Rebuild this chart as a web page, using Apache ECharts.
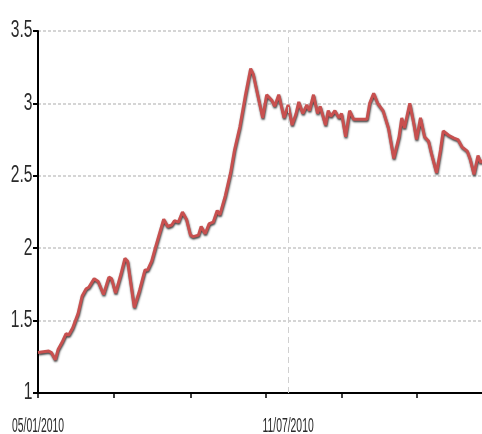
<!DOCTYPE html>
<html>
<head>
<meta charset="utf-8">
<script src="https://cdn.jsdelivr.net/npm/echarts@6/dist/echarts.min.js"></script>
<style>
html,body{margin:0;padding:0;background:#fff;}
#chart{width:482px;height:434px;}
</style>
</head>
<body>
<div id="chart"></div>
<script>
// Day offsets from 05/01/2010
var days = [0,8,10,13,15,18,21,23,26,30,33,36,38,42,45,49,53,55,58,62,65,67,72,76,80,82,85,88,94,97,100,102,105,108,111,114,116,120,122,125,128,131,134,136,140,144,147,151,155,159,161,164,168,171,175,177,180,184,187,190,193,195,198,201,203,206,209,211,215,217,219,222,225,227,230,233,236,246,248,251,254,258,262,266,270,272,274,278,281,283,286,289,292,294,298,301,303,307,311,314,317,321,323,326,329,331,332];
var values = [1.28,1.29,1.28,1.23,1.30,1.35,1.41,1.40,1.45,1.55,1.67,1.72,1.73,1.79,1.77,1.68,1.80,1.79,1.69,1.82,1.93,1.91,1.59,1.71,1.85,1.85,1.91,2.01,2.20,2.15,2.16,2.19,2.18,2.25,2.20,2.09,2.08,2.09,2.15,2.10,2.17,2.18,2.26,2.23,2.36,2.52,2.68,2.84,3.05,3.24,3.20,3.07,2.90,3.06,3.02,2.98,3.06,2.90,2.99,2.85,2.93,3.01,2.93,2.99,2.95,3.06,2.93,2.98,2.85,2.95,2.91,2.95,2.90,2.93,2.77,2.95,2.89,2.89,3.00,3.07,3.00,2.95,2.83,2.62,2.77,2.90,2.83,3.00,2.86,2.75,2.90,2.77,2.74,2.66,2.52,2.68,2.81,2.78,2.76,2.75,2.70,2.67,2.62,2.51,2.64,2.59,2.61];
var xTickDays = [0,57,114,170,227,283];
var xLabelDays = [0,187];
var xLabelTexts = ['05/01/2010','11/07/2010'];
var yTickValues = [1,1.5,2,2.5,3,3.5];
var yTickLabels = ['1','1.5','2','2.5','3','3.5'];
var markerDay = 187;

var seriesData = days.map(function(d,i){ return [d, values[i]]; });
var FONT = 'Liberation Sans, Arial, sans-serif';

var chart = echarts.init(document.getElementById('chart'));
chart.setOption({
  animation:false,
  grid:{left:38,right:0,top:31,bottom:41,containLabel:false},
  xAxis:{
    type:'value', min:0, max:332,
    axisLine:{show:true,lineStyle:{color:'#000',width:2}},
    axisTick:{show:true,length:5,customValues:xTickDays,lineStyle:{color:'#000',width:1.5}},
    axisLabel:{show:false},
    splitLine:{show:false}
  },
  yAxis:{
    type:'value', min:1, max:3.5, interval:0.5,
    axisLine:{show:true,lineStyle:{color:'#000',width:2}},
    axisTick:{show:true,length:5,lineStyle:{color:'#000',width:2}},
    axisLabel:{show:false},
    splitLine:{show:true,lineStyle:{color:'#c8c8c8',width:1.5,type:[3,2]}}
  },
  series:[{
    type:'line',
    data:seriesData,
    showSymbol:false,
    smooth:false,
    lineStyle:{color:'#c8504f',width:3,shadowColor:'rgba(0,0,0,0.75)',shadowBlur:2,shadowOffsetX:0.5,shadowOffsetY:1.5},
    markLine:{
      silent:true,symbol:['none','none'],label:{show:false},
      lineStyle:{color:'#d0d0d0',width:1,type:[6,4]},
      data:[{xAxis:markerDay}]
    }
  }]
});

// Narrow (condensed-looking) tick labels, positioned through the axes' own scales
var gfx = [];
var yAxisX = chart.convertToPixel({xAxisIndex:0}, 0);
yTickValues.forEach(function(v,i){
  var py = chart.convertToPixel({yAxisIndex:0}, v);
  gfx.push({type:'text', x:yAxisX-5.5, y:py, scaleX:0.68, silent:true,
    style:{text:yTickLabels[i], fontFamily:FONT, fontSize:23, fill:'#2a2a2a',
      align:'right', verticalAlign:'middle', textAlign:'right', textVerticalAlign:'middle'}});
});
var xAxisY = chart.convertToPixel({yAxisIndex:0}, 1);
xLabelDays.forEach(function(d,i){
  var px = chart.convertToPixel({xAxisIndex:0}, d);
  gfx.push({type:'text', x:px, y:xAxisY+33, scaleX:0.52, silent:true,
    style:{text:xLabelTexts[i], fontFamily:FONT, fontSize:20, fill:'#2a2a2a',
      align:'center', verticalAlign:'middle', textAlign:'center', textVerticalAlign:'middle'}});
});
chart.setOption({graphic:{elements:gfx}});
</script>
</body>
</html>
